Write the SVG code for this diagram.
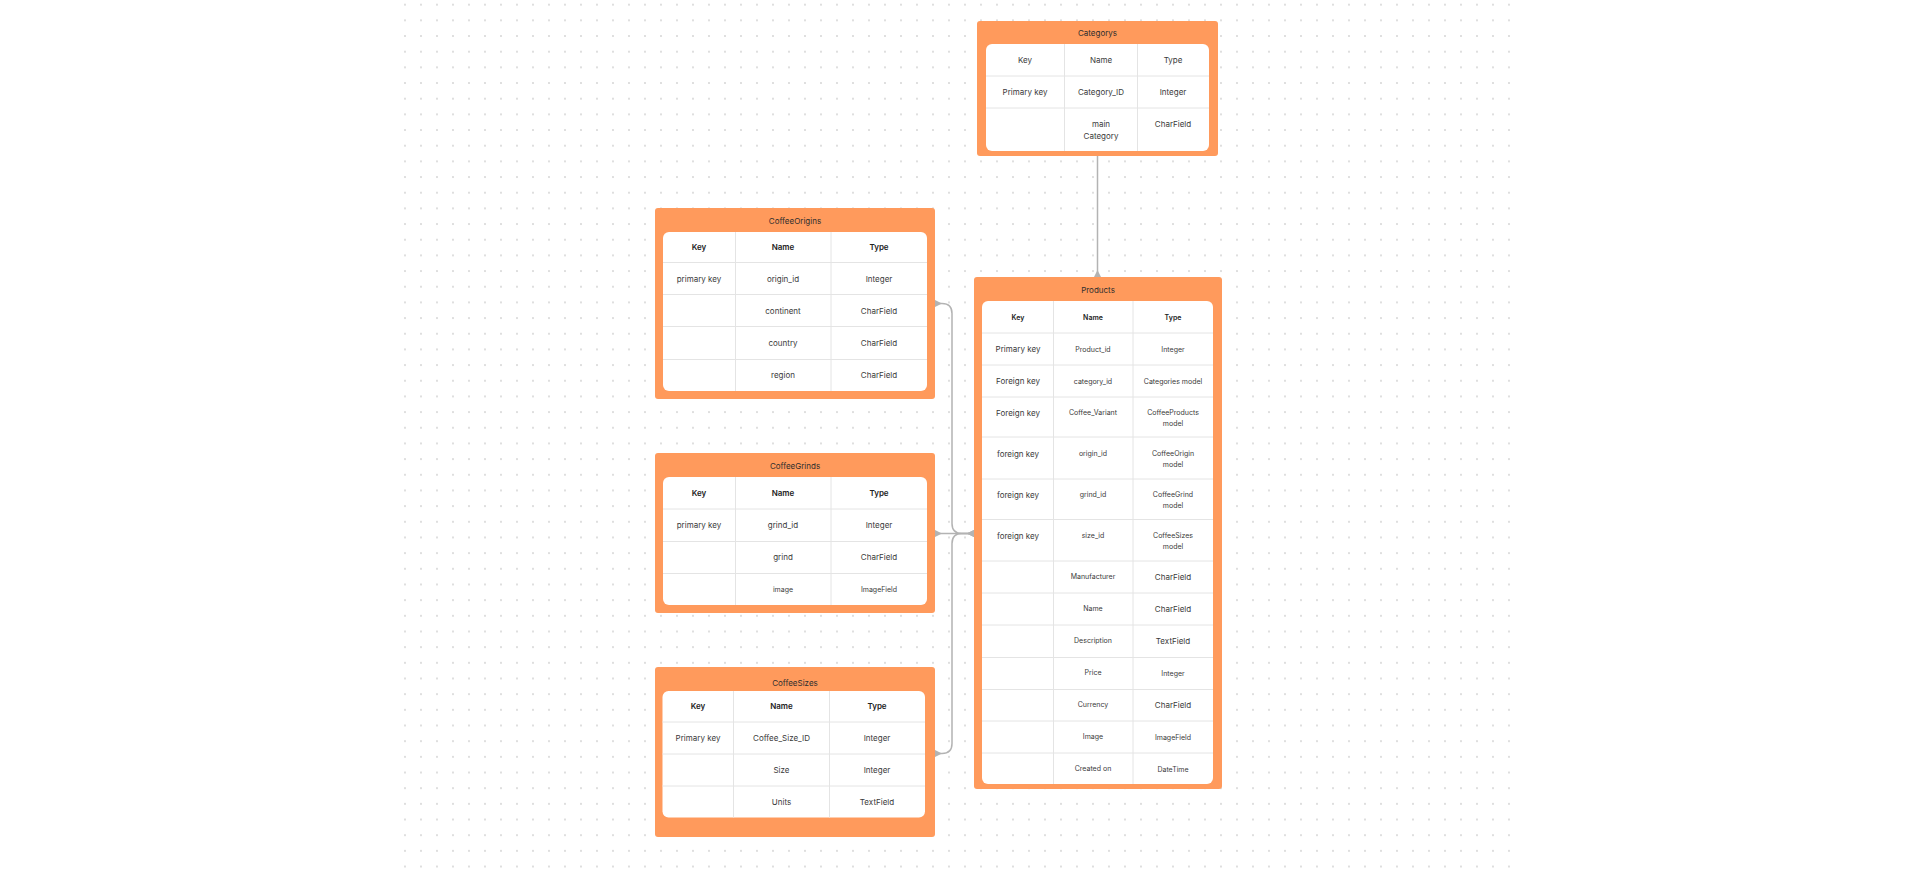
<svg xmlns="http://www.w3.org/2000/svg" width="1919" height="876" viewBox="0 0 1919 876">
<defs>
<pattern id="dots" patternUnits="userSpaceOnUse" x="404" y="3.7" width="16" height="15.67">
<circle cx="1" cy="1" r="0.9" fill="#cfcfcf"/>
</pattern>
<marker id="mS" markerUnits="userSpaceOnUse" viewBox="-1 -5 10 10" markerWidth="10" markerHeight="10" refX="0" refY="0" orient="auto">
<path d="M0,-3.5 L7,0 L0,3.5 Z" fill="#b3b3b3"/>
</marker>
<marker id="mE" markerUnits="userSpaceOnUse" viewBox="-9 -5 10 10" markerWidth="10" markerHeight="10" refX="0" refY="0" orient="auto">
<path d="M0,-3.5 L-7,0 L0,3.5 Z" fill="#b3b3b3"/>
</marker>
</defs>
<style>
.outer{fill:#FF9A5C}
.inner{fill:#ffffff}
.grid{stroke:#e4e4e4;stroke-width:1;fill:none}
text{font-family:Inter,"Liberation Sans",sans-serif;font-size:8px;fill:#3a3a3a;text-anchor:middle}
.title{font-size:8px;fill:#2e2e2e}
.hb{font-weight:600;fill:#222}
.sm{font-size:7px}
.conn{fill:none;stroke:#b3b3b3;stroke-width:1.5}
</style>
<rect x="0" y="0" width="1919" height="876" fill="#ffffff"/>
<rect x="400" y="0" width="1114" height="876" fill="url(#dots)"/>

<g id="connectors">
<path class="conn" d="M1097.5 156 V277" marker-end="url(#mE)"/>
<path class="conn" d="M935 303.5 H942 Q952 303.5 952 313.5 V523.5 Q952 533.5 962 533.5 H974" marker-start="url(#mS)" marker-end="url(#mE)"/>
<path class="conn" d="M935 533.5 H974" marker-start="url(#mS)" marker-end="url(#mE)"/>
<path class="conn" d="M935 753.5 H942 Q952 753.5 952 743.5 V543.5 Q952 533.5 962 533.5 H974" marker-start="url(#mS)" marker-end="url(#mE)"/>
</g>

<g id="categorys">
<rect class="outer" x="977" y="21" width="241" height="135" rx="3"/>
<text class="title" x="1097.5" y="36">Categorys</text>
<rect class="inner" x="986" y="44" width="223" height="107" rx="6"/>
<path class="grid" d="M1064.5 44 V151 M1137.5 44 V151 M986 76 H1209 M986 108 H1209"/>
<text x="1025" y="63">Key</text>
<text x="1101" y="63">Name</text>
<text x="1173" y="63">Type</text>
<text x="1025" y="95">Primary key</text>
<text x="1101" y="95">Category_ID</text>
<text x="1173" y="95">Integer</text>
<text x="1101" y="127">main</text>
<text x="1101" y="139">Category</text>
<text x="1173" y="127">CharField</text>
</g>

<g id="coffeeorigins">
<rect class="outer" x="655" y="208" width="280" height="191" rx="3"/>
<text class="title" x="795" y="224">CoffeeOrigins</text>
<rect class="inner" x="663" y="232" width="264" height="159" rx="6"/>
<path class="grid" d="M735.5 232 V391 M831 232 V391 M663 262.5 H927 M663 294.5 H927 M663 326.5 H927 M663 359.5 H927"/>
<text class="hb" x="699" y="250">Key</text>
<text class="hb" x="783" y="250">Name</text>
<text class="hb" x="879" y="250">Type</text>
<text x="699" y="282">primary key</text>
<text x="783" y="282">origin_id</text>
<text x="879" y="282">Integer</text>
<text x="783" y="314">continent</text>
<text x="879" y="314">CharField</text>
<text x="783" y="346">country</text>
<text x="879" y="346">CharField</text>
<text x="783" y="378">region</text>
<text x="879" y="378">CharField</text>
</g>

<g id="coffeegrinds">
<rect class="outer" x="655" y="453" width="280" height="160" rx="3"/>
<text class="title" x="795" y="469">CoffeeGrinds</text>
<rect class="inner" x="663" y="477" width="264" height="128" rx="6"/>
<path class="grid" d="M735.5 477 V605 M831 477 V605 M663 509 H927 M663 541.5 H927 M663 573.5 H927"/>
<text class="hb" x="699" y="496">Key</text>
<text class="hb" x="783" y="496">Name</text>
<text class="hb" x="879" y="496">Type</text>
<text x="699" y="528">primary key</text>
<text x="783" y="528">grind_id</text>
<text x="879" y="528">Integer</text>
<text x="783" y="560">grind</text>
<text x="879" y="560">CharField</text>
<text class="sm" x="783" y="591.5">image</text>
<text class="sm" x="879" y="591.5">ImageField</text>
</g>

<g id="coffeesizes">
<rect class="outer" x="655" y="667" width="280" height="170" rx="3"/>
<text class="title" x="795" y="686">CoffeeSizes</text>
<rect class="inner" x="662.5" y="691" width="262.5" height="126.5" rx="6"/>
<path class="grid" d="M733.5 691 V817.5 M829.5 691 V817.5 M662.5 722 H925 M662.5 754 H925 M662.5 786 H925"/>
<text class="hb" x="698" y="709">Key</text>
<text class="hb" x="781.5" y="709">Name</text>
<text class="hb" x="877" y="709">Type</text>
<text x="698" y="741">Primary key</text>
<text x="781.5" y="741">Coffee_Size_ID</text>
<text x="877" y="741">Integer</text>
<text x="781.5" y="773">Size</text>
<text x="877" y="773">Integer</text>
<text x="781.5" y="805">Units</text>
<text x="877" y="805">TextField</text>
</g>

<g id="products">
<rect class="outer" x="974" y="277" width="248" height="512" rx="3"/>
<text class="title" x="1098" y="293">Products</text>
<rect class="inner" x="982" y="301" width="231" height="483" rx="6"/>
<path class="grid" d="M1053.5 301 V784 M1133 301 V784 M982 333 H1213 M982 365 H1213 M982 397 H1213 M982 437 H1213 M982 479 H1213 M982 519.5 H1213 M982 561 H1213 M982 593 H1213 M982 625 H1213 M982 657.5 H1213 M982 689.5 H1213 M982 721 H1213 M982 753 H1213"/>
<text class="hb sm" x="1018" y="319.5">Key</text>
<text class="hb sm" x="1093" y="319.5">Name</text>
<text class="hb sm" x="1173" y="319.5">Type</text>
<text x="1018" y="352">Primary key</text>
<text class="sm" x="1093" y="351.5">Product_id</text>
<text class="sm" x="1173" y="351.5">Integer</text>
<text x="1018" y="384">Foreign key</text>
<text class="sm" x="1093" y="383.5">category_id</text>
<text class="sm" x="1173" y="383.5">Categories model</text>
<text x="1018" y="416">Foreign key</text>
<text class="sm" x="1093" y="414.5">Coffee_Variant</text>
<text class="sm" x="1173" y="414.5">CoffeeProducts</text>
<text class="sm" x="1173" y="425.5">model</text>
<text x="1018" y="457">foreign key</text>
<text class="sm" x="1093" y="455.5">origin_id</text>
<text class="sm" x="1173" y="455.5">CoffeeOrigin</text>
<text class="sm" x="1173" y="466.5">model</text>
<text x="1018" y="498">foreign key</text>
<text class="sm" x="1093" y="496.5">grind_id</text>
<text class="sm" x="1173" y="496.5">CoffeeGrind</text>
<text class="sm" x="1173" y="507.5">model</text>
<text x="1018" y="539">foreign key</text>
<text class="sm" x="1093" y="537.5">size_id</text>
<text class="sm" x="1173" y="537.5">CoffeeSizes</text>
<text class="sm" x="1173" y="548.5">model</text>
<text class="sm" x="1093" y="579">Manufacturer</text>
<text x="1173" y="580">CharField</text>
<text class="sm" x="1093" y="611">Name</text>
<text x="1173" y="612">CharField</text>
<text class="sm" x="1093" y="643">Description</text>
<text x="1173" y="644">TextField</text>
<text class="sm" x="1093" y="675">Price</text>
<text class="sm" x="1173" y="675.5">Integer</text>
<text class="sm" x="1093" y="707">Currency</text>
<text x="1173" y="708">CharField</text>
<text class="sm" x="1093" y="739">Image</text>
<text class="sm" x="1173" y="739.5">ImageField</text>
<text class="sm" x="1093" y="771">Created on</text>
<text class="sm" x="1173" y="771.5">DateTime</text>
</g>
</svg>
